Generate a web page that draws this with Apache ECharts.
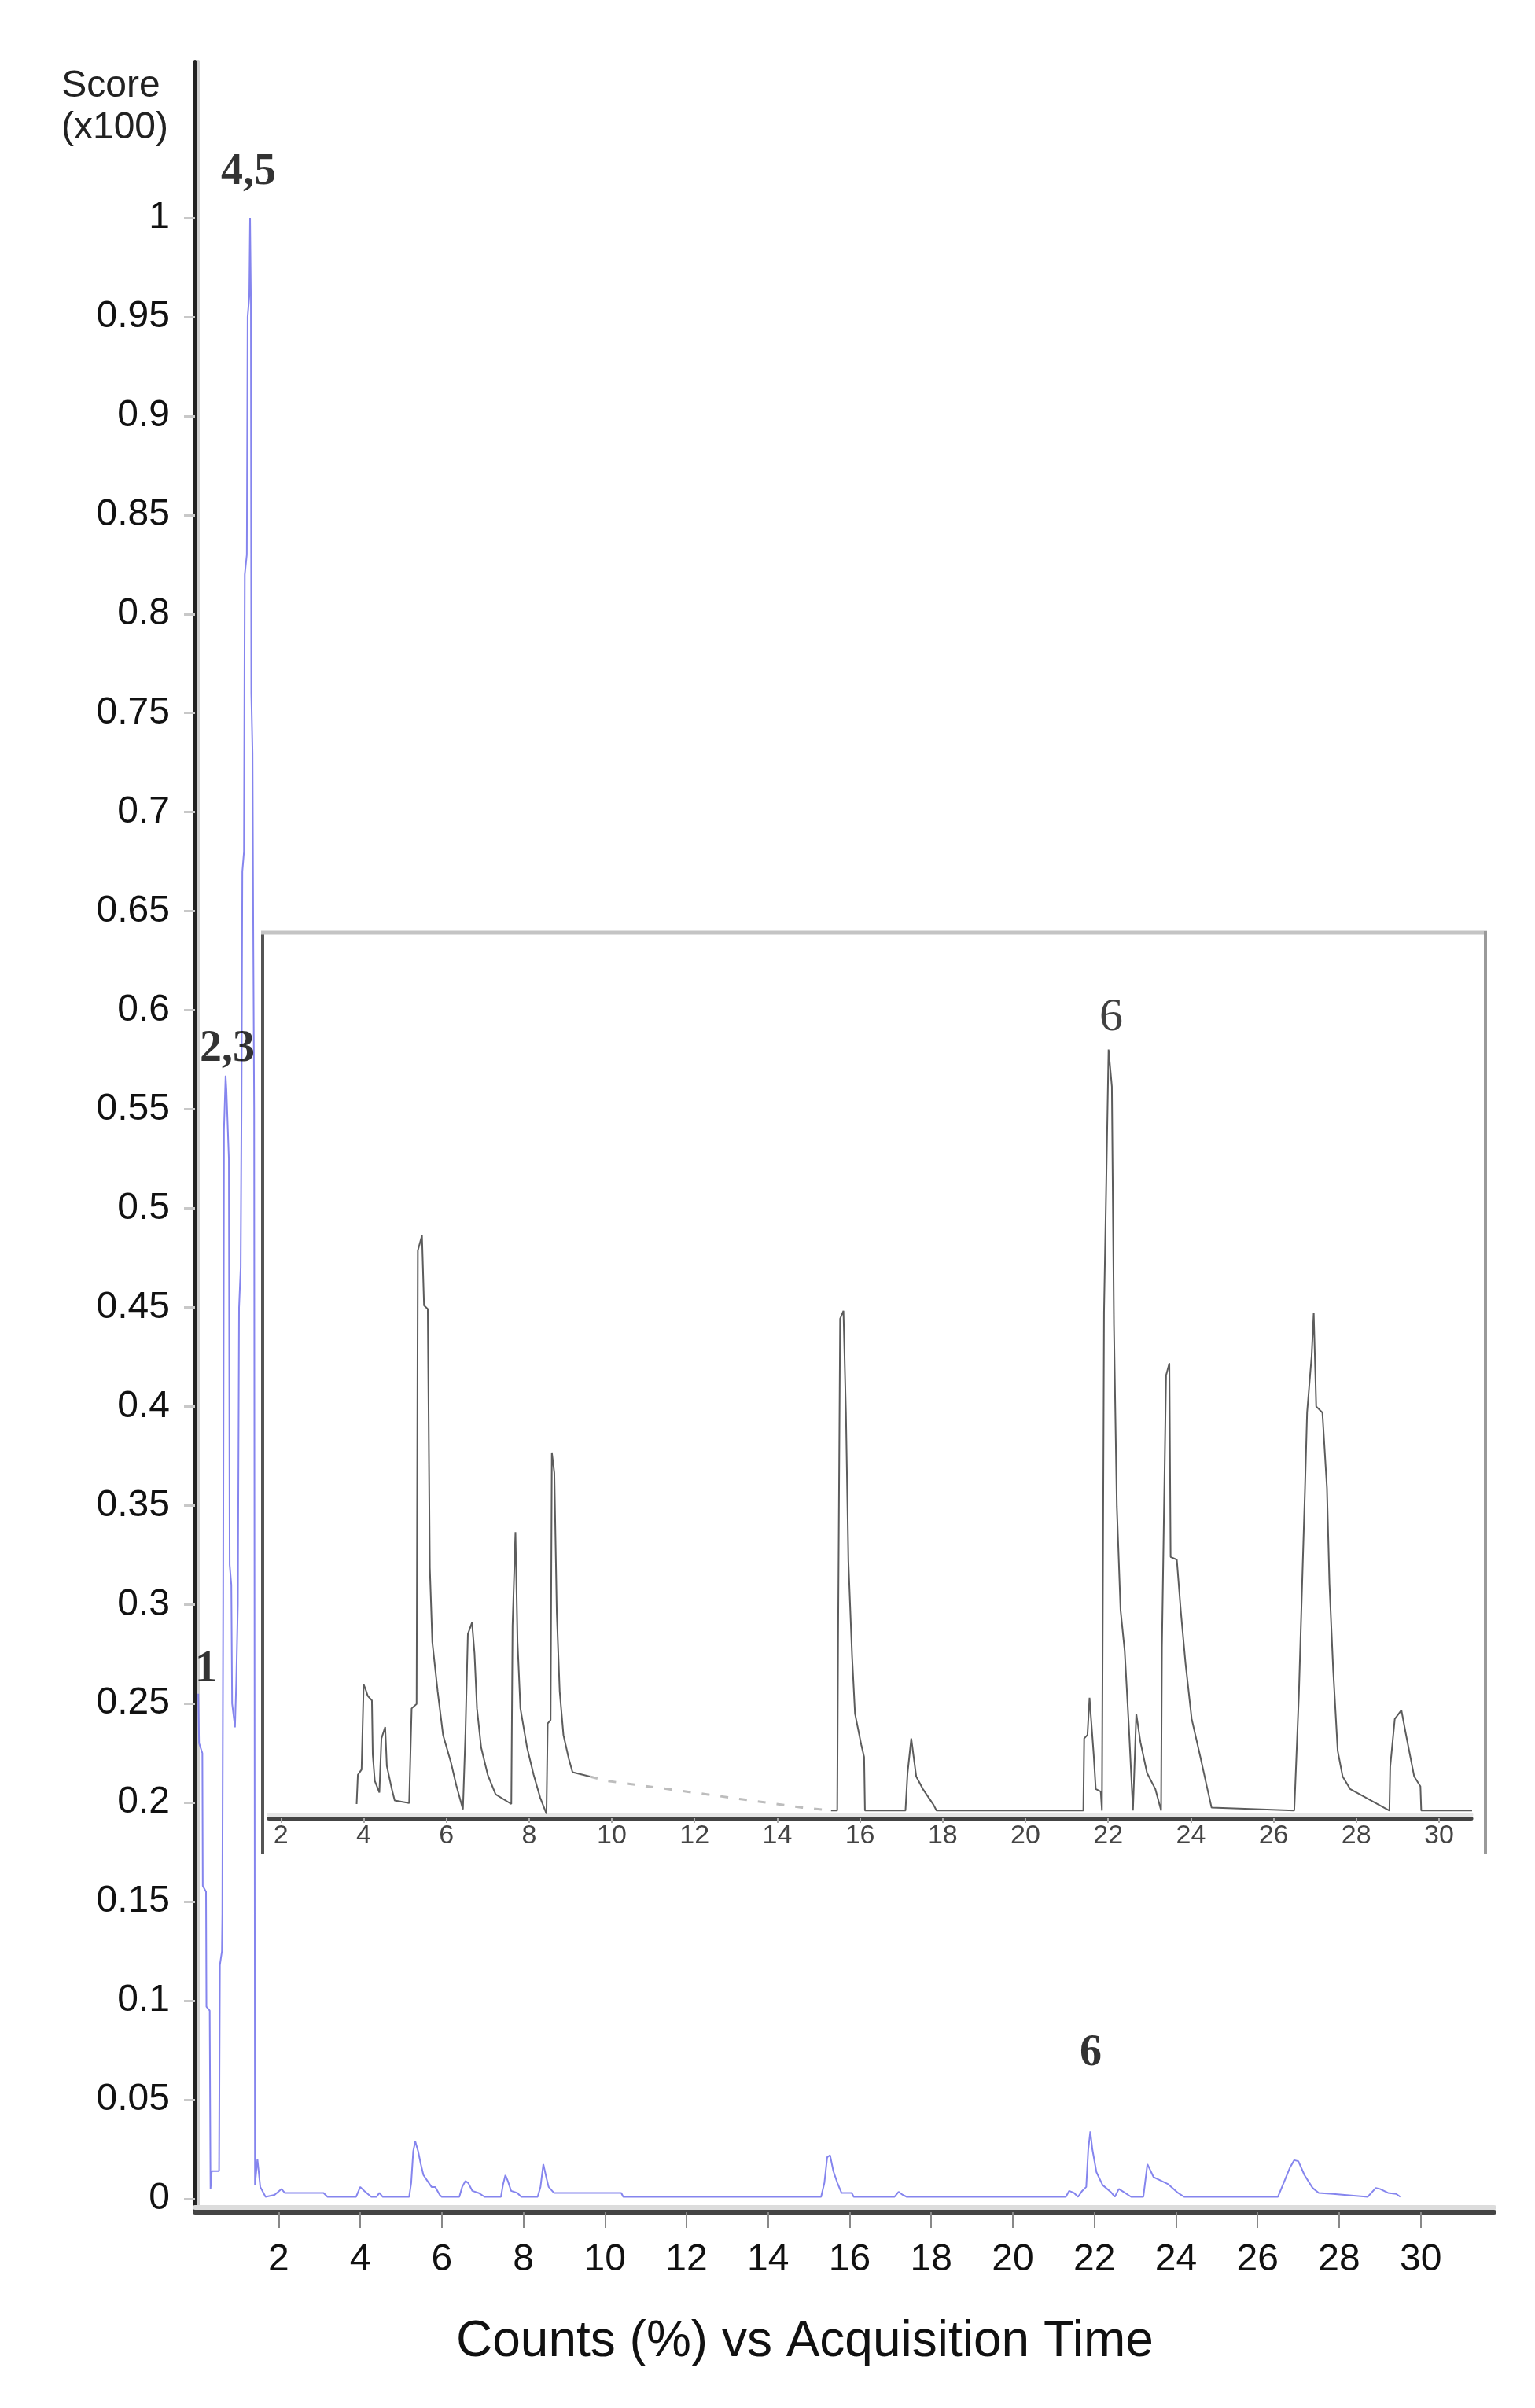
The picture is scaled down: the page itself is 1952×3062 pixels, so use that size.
<!DOCTYPE html>
<html><head><meta charset="utf-8">
<script src="https://cdn.jsdelivr.net/npm/echarts@6/dist/echarts.min.js"></script>
<style>html,body{margin:0;padding:0;background:#fff}#c{width:1952px;height:3062px}</style>
</head><body><div id="c"></div>
<script>
// ---- main chromatogram (Score x100 vs time, min) ----
const mainTime = [0.03,0.05,0.13,0.14,0.22,0.23,0.31,0.33,0.36,0.54,0.56,0.61,0.62,0.64,0.66,0.70,0.72,0.78,0.80,0.84,0.86,0.93,0.96,1.00,1.03,1.07,1.09,1.11,1.15,1.17,1.22,1.24,1.28,1.30,1.32,1.33,1.36,1.38,1.40,1.42,1.48,1.50,1.55,1.68,1.90,2.07,2.15,3.10,3.20,3.90,4.00,4.10,4.27,4.40,4.47,4.55,5.20,5.25,5.30,5.35,5.42,5.48,5.55,5.65,5.75,5.84,5.95,6.00,6.43,6.50,6.58,6.65,6.75,6.90,7.05,7.45,7.50,7.56,7.62,7.70,7.85,7.95,8.35,8.42,8.49,8.56,8.62,8.75,10.40,10.45,15.30,15.38,15.45,15.52,15.60,15.70,15.80,16.05,16.10,17.10,17.20,17.30,17.40,21.30,21.38,21.50,21.60,21.70,21.80,21.85,21.90,21.95,22.05,22.20,22.40,22.50,22.60,22.75,22.90,23.20,23.30,23.45,23.60,23.80,24.05,24.20,26.50,26.64,26.80,26.90,27.00,27.15,27.35,27.50,27.85,28.70,28.90,29.00,29.20,29.40,29.50];
const mainScore = [0.255,0.23,0.225,0.158,0.155,0.097,0.095,0.005,0.014,0.014,0.118,0.125,0.144,0.30,0.54,0.567,0.56,0.525,0.32,0.31,0.25,0.238,0.26,0.30,0.45,0.47,0.55,0.67,0.68,0.82,0.83,0.95,0.96,1.0,0.96,0.76,0.73,0.63,0.55,0.007,0.02,0.02,0.006,0.001,0.002,0.005,0.003,0.003,0.001,0.001,0.006,0.004,0.001,0.001,0.003,0.001,0.001,0.008,0.024,0.029,0.024,0.018,0.012,0.009,0.006,0.006,0.002,0.001,0.001,0.006,0.009,0.008,0.004,0.003,0.001,0.001,0.007,0.012,0.009,0.004,0.003,0.001,0.001,0.006,0.0175,0.011,0.006,0.003,0.003,0.001,0.001,0.008,0.021,0.022,0.014,0.008,0.003,0.003,0.001,0.001,0.0035,0.002,0.001,0.001,0.004,0.003,0.001,0.004,0.006,0.025,0.034,0.025,0.0135,0.007,0.0035,0.001,0.005,0.003,0.001,0.001,0.0175,0.011,0.0095,0.0075,0.003,0.001,0.001,0.008,0.016,0.0195,0.019,0.012,0.0055,0.003,0.0025,0.001,0.0055,0.005,0.003,0.0025,0.001];

// ---- inset (expanded view, relative units) ----
const insetTime = [3.83,3.86,3.95,4.00,4.05,4.10,4.20,4.22,4.27,4.38,4.43,4.52,4.56,4.68,4.75,5.10,5.16,5.28,5.31,5.41,5.46,5.55,5.57,5.60,5.66,5.79,5.92,6.11,6.24,6.40,6.46,6.52,6.62,6.68,6.74,6.84,7.00,7.19,7.57,7.60,7.67,7.72,7.79,7.95,8.11,8.27,8.42,8.45,8.52,8.55,8.61,8.67,8.74,8.83,8.96,9.05,9.47];
const insetValue = [1.6,4.9,5.5,15.1,14.5,13.8,13.3,7.2,4.2,2.9,9.0,10.3,5.9,3.3,2.0,1.7,12.4,12.9,64.1,65.8,57.9,57.5,46,28.3,19.9,14.3,9.4,6.3,3.7,1.0,9.4,20.8,22.1,18.6,12.4,8.0,4.9,2.7,1.6,21.7,32.3,19.9,12.4,8.0,4.9,2.3,0.5,10.7,11.1,41.3,39,23.2,14.3,9.4,6.7,5.2,4.7];
const insetGapTime = [9.47,9.9,11.5,12.9,14.6,15.3];
const insetGapValue = [4.7,4.2,3.2,2.3,1.2,0.86];
const insetTime2 = [15.30,15.45,15.47,15.52,15.60,15.66,15.72,15.81,15.88,16.03,16.10,16.12,17.10,17.15,17.24,17.36,17.52,17.78,17.85,21.40,21.42,21.50,21.55,21.65,21.70,21.82,21.85,21.90,22.01,22.09,22.14,22.21,22.30,22.40,22.50,22.60,22.68,22.78,22.94,23.14,23.28,23.30,23.40,23.48,23.51,23.66,23.76,23.87,24.02,24.23,24.40,24.50,26.50,26.61,26.70,26.76,26.81,26.92,26.97,27.03,27.18,27.29,27.35,27.44,27.55,27.67,27.85,28.80,28.82,28.93,29.09,29.19,29.40,29.55,29.57,30.80];
const insetValue2 = [0.86,0.86,19.6,56.4,57.3,45.8,29.0,18.2,11.8,8.3,6.9,0.86,0.86,5.1,9.0,4.7,3.3,1.5,0.86,0.86,9.0,9.4,13.6,7.2,3.3,3.0,0.86,57.1,86.8,82.6,55.7,35.2,23.5,18.9,10.4,0.86,11.8,8.6,5.1,3.3,0.86,19.3,50.0,51.4,29.5,29.2,23.2,17.5,11.2,6.9,3.3,1.2,0.86,13.8,28.0,37.3,45.8,52.2,57.1,46.5,45.8,37.3,26.5,16.8,7.6,4.7,3.3,0.86,5.8,11.2,12.2,9.7,4.7,3.6,0.86,0.86];

// ---- ticks ----
const mainXTicks = [2,4,6,8,10,12,14,16,18,20,22,24,26,28,30];
const mainYTicks = [0,0.05,0.1,0.15,0.2,0.25,0.3,0.35,0.4,0.45,0.5,0.55,0.6,0.65,0.7,0.75,0.8,0.85,0.9,0.95,1];
const insetXTicks = [2,4,6,8,10,12,14,16,18,20,22,24,26,28,30];

// ---- peak annotations ----
const peakLabels = ['1','2,3','4,5','6'];
const peakLabelX = [0.22,0.74,1.26,21.91];
const peakLabelY = [0.267,0.58,1.023,0.0734];
const insetPeakLabels = ['6'];
const insetPeakLabelX = [22.07];
const insetPeakLabelY = [90.4];

const zip = (a,b) => a.map((v,i)=>[v,b[i]]);
const SANS = '"Liberation Sans", Arial, sans-serif';
const SERIF = '"Liberation Serif", "Times New Roman", serif';

const chart = echarts.init(document.getElementById('c'), null, {renderer:'canvas'});
chart.setOption({
  animation:false,
  backgroundColor:'#fff',
  title:{text:'Counts (%) vs Acquisition Time', left:580, top:2946, padding:0,
    textStyle:{fontSize:64, fontWeight:'normal', color:'#111', fontFamily:SANS}},
  grid:[
    {left:248, right:52, top:78, bottom:249},
    {left:342, right:81, top:1186, bottom:750}
  ],
  xAxis:[
    {type:'value', gridIndex:0, min:-0.05, max:31.8, splitLine:{show:false},
     axisLine:{onZero:false, lineStyle:{color:'#444', width:6, shadowColor:'#dcdcdc', shadowOffsetY:-6, shadowBlur:0}},
     axisTick:{show:true, customValues:mainXTicks, length:20, lineStyle:{color:'#888', width:2}},
     axisLabel:{customValues:mainXTicks, fontSize:48, color:'#111', fontFamily:SANS, margin:37}},
    {type:'value', gridIndex:1, min:1.71, max:30.78, splitLine:{show:false},
     axisLine:{onZero:false, lineStyle:{color:'#444', width:5, shadowColor:'#e6e6e6', shadowOffsetY:-5, shadowBlur:0}},
     axisTick:{show:true, customValues:insetXTicks, length:6, lineStyle:{color:'#aaa', width:2}},
     axisLabel:{customValues:insetXTicks, fontSize:34, color:'#444', fontFamily:SANS, margin:6}}
  ],
  yAxis:[
    {type:'value', gridIndex:0, min:-0.00675, max:1.079, splitLine:{show:false},
     axisLine:{show:true, onZero:false, lineStyle:{color:'#222', width:4, shadowColor:'#cfcfcf', shadowOffsetX:4, shadowBlur:0}},
     axisTick:{show:true, customValues:mainYTicks, length:14, lineStyle:{color:'#c8c8c8', width:3}},
     axisLabel:{customValues:mainYTicks, fontSize:48, color:'#111', fontFamily:SANS, margin:32,
       formatter:v=>String(v)}},
    {type:'value', gridIndex:1, min:0, max:100, show:false}
  ],
  graphic:[
    {type:'line', shape:{x1:334,y1:1184,x2:334,y2:2358}, style:{stroke:'#555', lineWidth:4}},
    {type:'line', shape:{x1:332,y1:1186,x2:1891,y2:1186}, style:{stroke:'#c4c4c4', lineWidth:5}},
    {type:'line', shape:{x1:1889,y1:1184,x2:1889,y2:2358}, style:{stroke:'#9a9a9a', lineWidth:4}},
    {type:'text', x:141, y:110, style:{text:'Score', font:'48px "Liberation Sans"', fill:'#222', align:'center', verticalAlign:'middle', textAlign:'center', textVerticalAlign:'middle'}},
    {type:'text', x:146, y:163, style:{text:'(x100)', font:'48px "Liberation Sans"', fill:'#222', align:'center', verticalAlign:'middle', textAlign:'center', textVerticalAlign:'middle'}}
  ],
  series:[
    {type:'line', xAxisIndex:0, yAxisIndex:0, data:zip(mainTime, mainScore), showSymbol:false, symbol:'none',
     lineStyle:{color:'#8585ee', width:2}, z:3},
    {type:'line', xAxisIndex:1, yAxisIndex:1, data:zip(insetTime, insetValue), showSymbol:false, symbol:'none',
     lineStyle:{color:'#5c5c5c', width:2}, z:3},
    {type:'line', xAxisIndex:1, yAxisIndex:1, data:zip(insetGapTime, insetGapValue), showSymbol:false, symbol:'none',
     lineStyle:{color:'#bdbdbd', width:3, type:[10,14]}, z:3},
    {type:'line', xAxisIndex:1, yAxisIndex:1, data:zip(insetTime2, insetValue2), showSymbol:false, symbol:'none',
     lineStyle:{color:'#5c5c5c', width:2}, z:3},
    {type:'scatter', xAxisIndex:0, yAxisIndex:0, symbolSize:1, itemStyle:{color:'rgba(0,0,0,0)'},
     data:peakLabels.map((t,i)=>({value:[peakLabelX[i], peakLabelY[i]], name:t})),
     label:{show:true, position:'inside', formatter:p=>p.name, fontFamily:SERIF, fontWeight:'bold', fontSize:56, color:'#000'}, z:5},
    {type:'scatter', xAxisIndex:1, yAxisIndex:1, symbolSize:1, itemStyle:{color:'rgba(0,0,0,0)'},
     data:insetPeakLabels.map((t,i)=>({value:[insetPeakLabelX[i], insetPeakLabelY[i]], name:t})),
     label:{show:true, position:'inside', formatter:p=>p.name, fontFamily:SERIF, fontWeight:'normal', fontSize:60, color:'#111'}, z:5}
  ]
});
</script></body></html>
